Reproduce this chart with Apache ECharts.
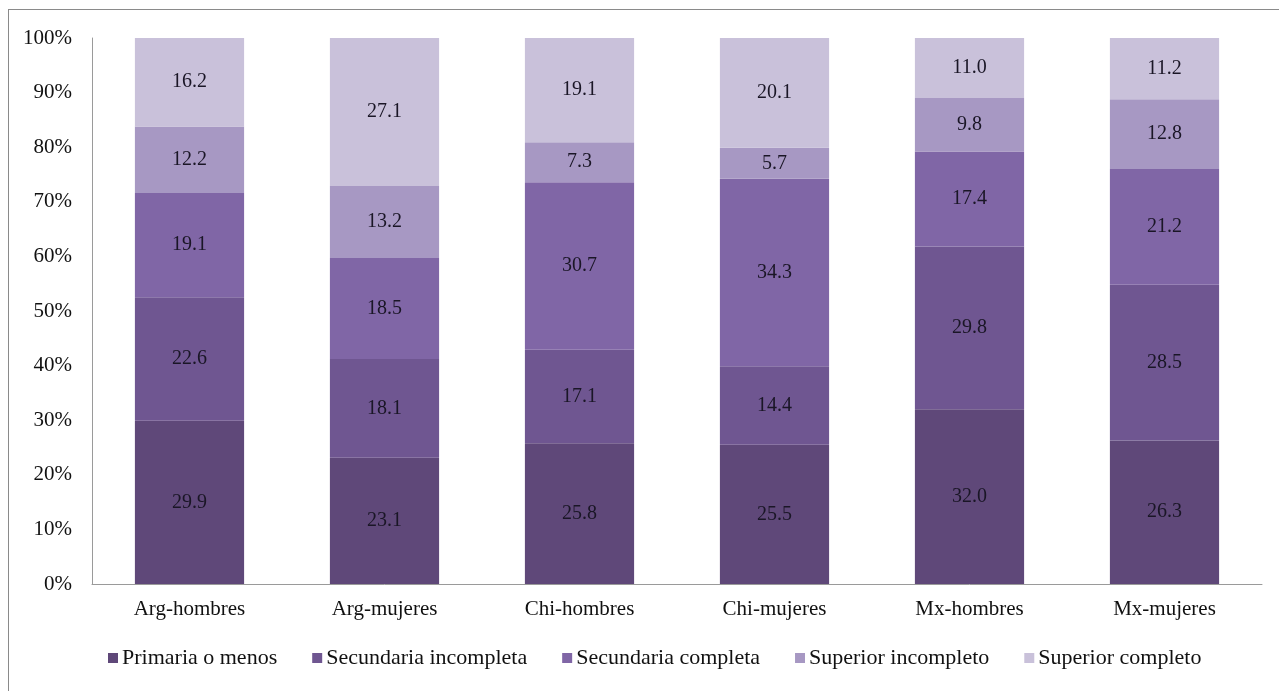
<!DOCTYPE html>
<html>
<head>
<meta charset="utf-8">
<script src="https://cdn.jsdelivr.net/npm/echarts@6/dist/echarts.min.js"></script>
<style>
html,body{margin:0;padding:0;background:#fff;}
#frame{position:absolute;left:8px;top:9px;width:1275px;height:690px;border:1px solid #8a8a8a;box-sizing:border-box;}
#c{position:absolute;left:0;top:0;width:1279px;height:691px;}
</style>
</head>
<body>
<div id="frame"></div>
<div id="c"></div>
<script>
const categories = ['Arg-hombres','Arg-mujeres','Chi-hombres','Chi-mujeres','Mx-hombres','Mx-mujeres'];
const seriesNames = ['Primaria o menos','Secundaria incompleta','Secundaria completa','Superior incompleto','Superior completo'];
const primaria = [29.9, 23.1, 25.8, 25.5, 32.0, 26.3];
const secIncompleta = [22.6, 18.1, 17.1, 14.4, 29.8, 28.5];
const secCompleta = [19.1, 18.5, 30.7, 34.3, 17.4, 21.2];
const supIncompleto = [12.2, 13.2, 7.3, 5.7, 9.8, 12.8];
const supCompleto = [16.2, 27.1, 19.1, 20.1, 11.0, 11.2];
const colors = ['#5f4879','#6f5691','#8066a6','#a798c3','#c9c1da'];

const font = "'Times New Roman','Liberation Serif',serif";
const values = [primaria, secIncompleta, secCompleta, supIncompleto, supCompleto];

const chart = echarts.init(document.getElementById('c'));
chart.setOption({
  animation: false,
  color: colors,
  grid: {left: 92, right: 17, top: 38, bottom: 107},
  legend: {
    bottom: 17,
    left: 103,
    icon: 'rect',
    itemWidth: 10,
    itemHeight: 10,
    itemGap: 35,
    textStyle: {fontFamily: font, fontSize: 22, color: '#111', padding: [0,0,0,-1]},
    data: seriesNames
  },
  xAxis: {
    type: 'category',
    data: categories,
    axisLine: {lineStyle: {color: '#9a9a9a', width: 1}},
    axisTick: {show: false},
    axisLabel: {fontFamily: font, fontSize: 21, color: '#111', margin: 15}
  },
  yAxis: {
    type: 'value',
    min: 0, max: 100, interval: 10,
    axisLine: {show: true, lineStyle: {color: '#9a9a9a', width: 1}},
    axisTick: {show: false},
    splitLine: {show: false},
    axisLabel: {fontFamily: font, fontSize: 21, color: '#111', margin: 20, formatter: v => v + '%'}
  },
  series: seriesNames.map((n, i) => ({
    name: n,
    type: 'bar',
    stack: 'total',
    barWidth: '56%',
    data: values[i],
    itemStyle: {color: colors[i]},
    label: {
      show: true,
      position: 'inside',
      fontFamily: font,
      fontSize: 20,
      color: '#1a1626',
      formatter: p => p.value.toFixed(1)
    }
  }))
});
</script>
</body>
</html>
